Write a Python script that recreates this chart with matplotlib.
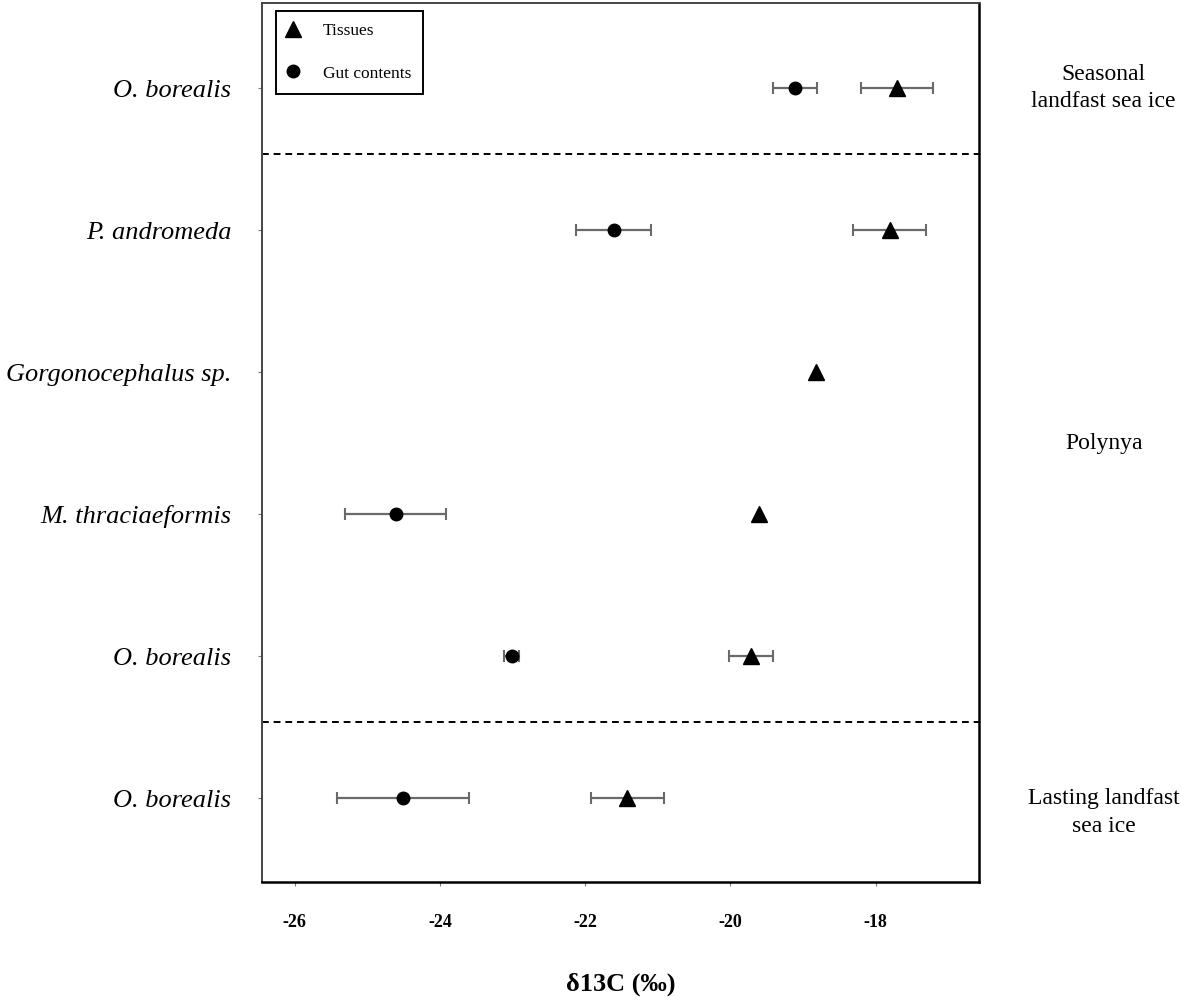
import matplotlib.pyplot as plt
from matplotlib.transforms import blended_transform_factory
import numpy as np

# rows listed top to bottom
species = ['O. borealis', 'P. andromeda', 'Gorgonocephalus sp.',
           'M. thraciaeformis', 'O. borealis', 'O. borealis']
tissue_mean = [-17.71, -17.81, -18.82, -19.61, -19.72, -21.42]
tissue_sd = [0.50, 0.50, 0.0, 0.0, 0.30, 0.50]
gut_mean = [-19.11, -21.61, np.nan, -24.61, -23.01, -24.51]
gut_sd = [0.30, 0.51, np.nan, 0.70, 0.105, 0.91]

regions = ['Seasonal\nlandfast sea ice', 'Polynya', 'Lasting landfast\nsea ice']
region_y = [6, 3.5, 0.9]
boundaries = [5.54, 1.54]
xticks = [-26, -24, -22, -20, -18]

plt.rcParams['font.family'] = ['Liberation Serif', 'DejaVu Serif']

ypos = np.arange(len(species), 0, -1)
tm = np.array(tissue_mean)
ts = np.array(tissue_sd)
gm = np.array(gut_mean)
gs = np.array(gut_sd)

fig = plt.figure(figsize=(11.81, 9.97), dpi=100)
ax = fig.add_axes([0.2218, 0.1153, 0.6071, 0.8817])

err_style = dict(fmt='none', ecolor='#6a6a6a', elinewidth=1.6,
                 capsize=4.5, capthick=1.5, zorder=2)
m = ts > 0
ax.errorbar(tm[m], ypos[m], xerr=ts[m], **err_style)
m = gs > 0
ax.errorbar(gm[m], ypos[m], xerr=gs[m], **err_style)

ax.plot(tm, ypos, '^', color='black', ms=11, ls='none', label='Tissues', zorder=3)
ax.plot(gm, ypos, 'o', color='black', ms=9, ls='none', label='Gut contents', zorder=3)

for b in boundaries:
    ax.axhline(b, color='black', lw=1.4, ls=(0, (3.5, 2.5)), zorder=1)

ax.set_xlim(-26.45, -16.58)
ax.set_ylim(0.41, 6.6)
ax.set_xticks(xticks)
ax.set_xticklabels([str(t) for t in xticks], fontsize=13, fontweight='bold')
ax.set_yticks(ypos)
ax.set_yticklabels(species, fontsize=19, style='italic')
ax.tick_params(axis='x', length=3, color='#777777', pad=20)
ax.tick_params(axis='y', length=3, color='#777777', pad=19)
ax.set_xlabel('δ13C (‰)', fontsize=19, fontweight='bold', labelpad=30)

for side in ['bottom', 'right']:
    ax.spines[side].set_linewidth(1.8)
    ax.spines[side].set_color('black')
for side in ['top', 'left']:
    ax.spines[side].set_linewidth(1.4)
    ax.spines[side].set_color('#444444')

trans = blended_transform_factory(ax.transAxes, ax.transData)
for txt, y in zip(regions, region_y):
    ax.text(1.174, y, txt, transform=trans, ha='center', va='center',
            fontsize=17, linespacing=1.4)

leg = ax.legend(loc='upper left', bbox_to_anchor=(276 / 1181, 1 - 11 / 997),
                bbox_transform=fig.transFigure, fontsize=12.5, frameon=True,
                fancybox=False, edgecolor='black', framealpha=1,
                handlelength=0.6, handletextpad=1.4, labelspacing=1.5,
                borderpad=0.7, borderaxespad=0)
leg.get_frame().set_linewidth(1.4)

fig.savefig('out.png', dpi=100)
plt.close(fig)
